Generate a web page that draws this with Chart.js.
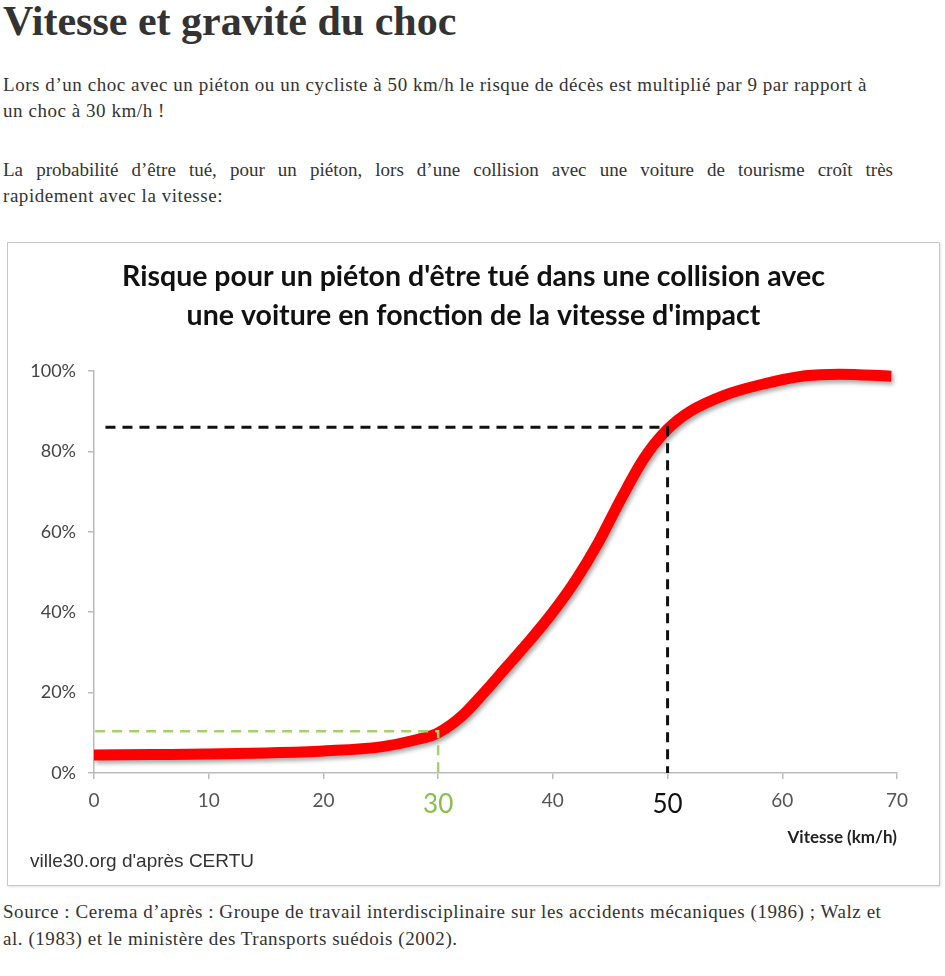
<!DOCTYPE html>
<html lang="fr">
<head>
<meta charset="utf-8">
<title>Vitesse et gravité du choc</title>
<script src="https://cdn.jsdelivr.net/npm/chart.js@4.4.0/dist/chart.umd.min.js"></script>
<style>
  body { margin: 0; background: #fff; width: 945px; height: 976px; position: relative; overflow: hidden; }
  .txt { position: absolute; left: 3px; font-family: "Liberation Serif", serif; color: #333; white-space: nowrap; font-size: 19px; letter-spacing: 0.55px; }
  h1 { position: absolute; left: 3px; top: -2px; margin: 0; font-family: "Liberation Serif", serif; font-size: 42px; line-height: 46px; color: #333; font-weight: bold; }
  .just { width: 890px; text-align: justify; text-align-last: justify; letter-spacing: 0; }
  #box { position: absolute; left: 7px; top: 242px; width: 931px; height: 642px; border: 1px solid #c8c8c8; box-shadow: 1px 1px 2px rgba(0,0,0,0.12); }
  #wrap { position: relative; width: 931px; height: 642px; }
  #credit { position: absolute; left: 22px; top: 606px; font-family: "Liberation Sans", Arial, sans-serif; font-size: 19px; line-height: 24px; color: #333; }
</style>
</head>
<body>
<h1>Vitesse et gravité du choc</h1>
<div class="txt" style="top:72px;line-height:26px;">Lors d’un choc avec un piéton ou un cycliste à 50 km/h le risque de décès est multiplié par 9 par rapport à<br>un choc à 30 km/h !</div>
<div class="txt just" style="top:157px;line-height:26px;">La probabilité d’être tué, pour un piéton, lors d’une collision avec une voiture de tourisme croît très</div>
<div class="txt" style="top:183px;line-height:26px;">rapidement avec la vitesse:</div>
<div id="box"><div id="wrap"><canvas id="chart"></canvas><div id="credit">ville30.org d'après CERTU</div></div></div>
<div class="txt" style="top:898px;line-height:27px;">Source : Cerema d’après : Groupe de travail interdisciplinaire sur les accidents mécaniques (1986) ; Walz et<br>al. (1983) et le ministère des Transports suédois (2002).</div>

<script>
// vitesse d'impact (km/h) et risque d'être tué (%)
const vitesses = [0, 5, 10, 15, 20, 25, 28, 30, 32, 34, 36, 38, 40, 42, 44, 46, 48, 50, 52, 55, 58, 62, 65, 69.5];
const risques = [4.5, 4.6, 4.7, 5.0, 5.5, 6.5, 8.2, 10, 14, 20, 26.5, 33, 40, 48, 57.5, 68.5, 78.5, 85.5, 90, 94, 96.5, 98.8, 99.2, 98.7];

// repères 50 km/h (noir) et 30 km/h (vert)
const repere50X = [1, 50, 50];
const repere50Y = [86, 86, 0];
const repere30X = [0.1, 30, 30];
const repere30Y = [10.4, 10.4, 0];

const xTicks = [0, 10, 20, 30, 40, 50, 60, 70];
const yTicks = [0, 20, 40, 60, 80, 100];

const titre = ["Risque pour un piéton d'être tué dans une collision avec", "une voiture en fonction de la vitesse d'impact"];
const titreAxeX = "Vitesse (km/h)";

const toPoints = (xs, ys) => xs.map((x, i) => ({ x: x, y: ys[i] }));

const ombre = {
    id: 'ombre',
    beforeDatasetDraw(chart, args) {
        if (args.index !== 2) return;
        const ctx = chart.ctx;
        ctx.save();
        ctx.shadowColor = 'rgba(0,0,0,0.35)';
        ctx.shadowBlur = 4;
        ctx.shadowOffsetX = 2;
        ctx.shadowOffsetY = 3;
    },
    afterDatasetDraw(chart, args) {
        if (args.index !== 2) return;
        chart.ctx.restore();
    }
};

Chart.defaults.font.family = 'Lato, "Open Sans", sans-serif';

const ctx = document.getElementById('chart').getContext('2d');
const chart = new Chart(ctx, {
    type: 'line',
    data: {
        datasets: [{
            data: toPoints(repere50X, repere50Y),
            borderColor: '#111',
            borderWidth: 3,
            borderDash: [10, 7],
            pointRadius: 0,
            clip: false
        }, {
            data: toPoints(repere30X, repere30Y),
            borderColor: '#a3d16b',
            borderWidth: 2.5,
            borderDash: [10, 7],
            pointRadius: 0,
            clip: false
        }, {
            data: toPoints(vitesses, risques),
            borderColor: '#ff0000',
            borderWidth: 11,
            borderCapStyle: 'butt',
            cubicInterpolationMode: 'monotone',
            pointRadius: 0,
            clip: false
        }]
    },
    options: {
        responsive: true,
        maintainAspectRatio: false,
        animation: false,
        events: [],
        layout: { padding: { left: 0, right: 0, top: 0, bottom: 34 } },
        plugins: {
            legend: { display: false },
            tooltip: { enabled: false },
            title: {
                display: true,
                text: titre,
                color: '#111',
                font: { size: 28.5, weight: 'bold', lineHeight: 1.35 },
                padding: { top: 15, bottom: 36 }
            }
        },
        scales: {
            x: {
                type: 'linear',
                min: 0,
                max: 70,
                afterBuildTicks: scale => { scale.ticks = xTicks.map(v => ({ value: v })); },
                afterFit: scale => { scale.height = 78; },
                border: { color: '#bbb', width: 1.5 },
                grid: { drawOnChartArea: false, color: '#bbb', tickLength: 6, lineWidth: 1.5 },
                ticks: {
                    padding: 10,
                    color: c => c.tick && c.tick.value === 30 ? '#86bf4a' : (c.tick && c.tick.value === 50 ? '#111' : '#555'),
                    font: c => (c.tick && (c.tick.value === 30 || c.tick.value === 50)) ? { size: 26 } : { size: 19 }
                },
                title: {
                    display: true,
                    text: titreAxeX,
                    align: 'end',
                    color: '#222',
                    font: { size: 17, weight: 'bold', lineHeight: 1.2 },
                    padding: { top: 0, bottom: 3 }
                }
            },
            y: {
                min: 0,
                max: 100,
                afterBuildTicks: scale => { scale.ticks = yTicks.map(v => ({ value: v })); },
                afterFit: scale => { scale.width = 86; },
                border: { color: '#bbb', width: 1.5 },
                grid: { drawOnChartArea: false, color: '#bbb', tickLength: 6, lineWidth: 1.5 },
                ticks: {
                    padding: 12,
                    color: '#444',
                    font: { size: 18 },
                    callback: v => v + '%'
                }
            },
            // marge droite vide
            marge: {
                position: 'right',
                min: 0,
                max: 100,
                border: { display: false },
                grid: { display: false },
                ticks: { display: false },
                afterFit: scale => { scale.width = 42; }
            }
        }
    },
    plugins: [ombre]
});
</script>
</body>
</html>
